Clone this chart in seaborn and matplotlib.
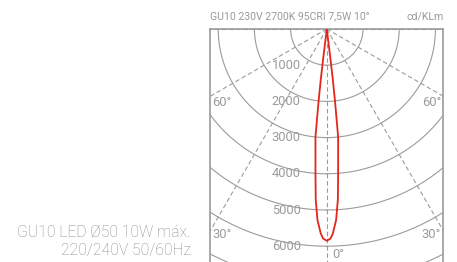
import numpy as np
import pandas as pd
import matplotlib
matplotlib.use("Agg")
import matplotlib.pyplot as plt
import seaborn as sns

# -----------------------------------------------------
# DATA
# -----------------------------------------------------

title_text = "GU10 230V 2700K 95CRI 7,5W 10°"
unit_text = "cd/KLm"
lamp_lines = ["GU10 LED Ø50 10W máx.", "220/240V 50/60Hz"]

ring_values = [1000, 2000, 3000, 4000, 5000, 6000, 7000]
ring_labels = ["1000", "2000", "3000", "4000", "5000", "6000"]
ray_angles = [-90, -60, -30, 0, 30, 60, 90]

# half curve (symmetric), angle from nadir in degrees vs intensity in cd/klm
curve_angle = [0, 1.0, 1.7, 2.8, 3.7, 4.5, 6.0, 6.5, 6.8, 7.0, 7.5]
curve_cd = [5850, 5790, 5650, 5280, 4730, 3990, 3000, 2000, 1400, 800, 0]

# -----------------------------------------------------
# STYLE
# -----------------------------------------------------

sns.set_theme(style="white")
plt.rcParams["font.family"] = ["Roboto", "DejaVu Sans"]

GRID = "#9b9b9b"
TEXT = "#9a9a9a"
RED = "#e3261c"

W, H = 457, 262
fig = plt.figure(figsize=(W / 100, H / 100), dpi=100)

# layout in pixels
px_per_cd = 36.2 / 1000
cx, cy = 326.8, 29.0
box_l, box_r = 210.0, 443.3

ax = fig.add_axes([box_l / W, 0, (box_r - box_l) / W, 1 - cy / H])
ax.set_xlim(-(cx - box_l) / px_per_cd, (box_r - cx) / px_per_cd)
ax.set_ylim(-(H - cy) / px_per_cd, 0)

# -----------------------------------------------------
# GRID: RINGS + RAYS
# -----------------------------------------------------

t = np.linspace(0, 2 * np.pi, 721)
for r in ring_values:
    ax.plot(r * np.sin(t), -r * np.cos(t), color=GRID, lw=0.8, zorder=1)

for a in ray_angles:
    rad = np.deg2rad(a)
    ax.plot([0, 12000 * np.sin(rad)], [0, -12000 * np.cos(rad)],
            color=GRID, lw=0.8, ls=(0, (4, 2.5)), zorder=1)

# -----------------------------------------------------
# PHOTOMETRIC CURVE
# -----------------------------------------------------

ang = np.array(curve_angle)
cd = np.array(curve_cd)
full_ang = np.concatenate([-ang[::-1], ang[1:]])
full_cd = np.concatenate([cd[::-1], cd[1:]])
rad = np.deg2rad(full_ang)
df = pd.DataFrame({"x": full_cd * np.sin(rad), "y": -full_cd * np.cos(rad)})
sns.lineplot(data=df, x="x", y="y", sort=False, estimator=None,
             color=RED, lw=1.3, ax=ax, zorder=3)

# -----------------------------------------------------
# LABELS
# -----------------------------------------------------

for v, lab in zip(ring_values, ring_labels):
    ax.text(-720, -v, lab, ha="right", va="center", fontsize=9.3,
            color=GRID, zorder=2)

xl, xr = ax.get_xlim()
pad = 2.3 / px_per_cd
for txt, ypx in [("60°", 103), ("30°", 235)]:
    yv = -(ypx - cy) / px_per_cd
    ax.text(xl + pad, yv, txt, ha="left", va="center", fontsize=9.3, color=GRID)
    ax.text(xr - pad, yv, txt, ha="right", va="center", fontsize=9.3, color=GRID)
ax.text(5 / px_per_cd, -(254.3 - cy) / px_per_cd, "0°", ha="left",
        va="center", fontsize=9.3, color=GRID)

ax.set_xlabel("")
ax.set_ylabel("")
ax.set_xticks([])
ax.set_yticks([])
for side in ["left", "right", "top"]:
    ax.spines[side].set_color(GRID)
    ax.spines[side].set_linewidth(1.2)
ax.spines["bottom"].set_visible(False)

fig.text(box_l / W, 1 - 16 / H, title_text, ha="left", va="center",
         fontsize=7.6, color=TEXT)
fig.text(box_r / W, 1 - 16 / H, unit_text, ha="right", va="center",
         fontsize=7.6, color=TEXT)
fig.text(190.7 / W, 1 - 231.7 / H, lamp_lines[0], ha="right", va="center",
         fontsize=11.3, color="#8a8a8a", fontweight="light")
fig.text(190.7 / W, 1 - 251 / H, lamp_lines[1], ha="right", va="center",
         fontsize=11.3, color="#8a8a8a", fontweight="light")

fig.savefig("out.png", dpi=100)
